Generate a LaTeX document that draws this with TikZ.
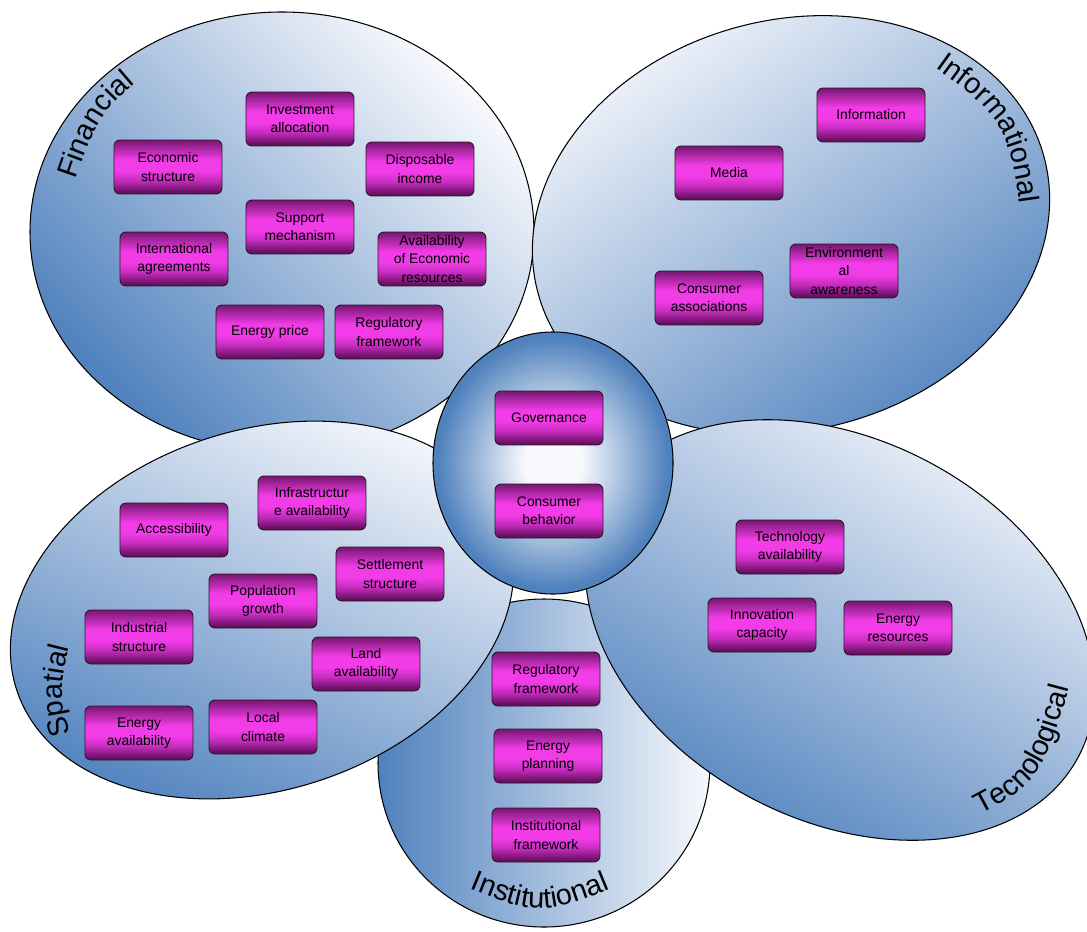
\documentclass[tikz,border=0pt]{standalone}
\usepackage{fontspec}
\setmainfont{Liberation Sans}
\usetikzlibrary{decorations.text}
\definecolor{pblue}{RGB}{79,129,189}
\definecolor{plight}{RGB}{248,249,253}
\definecolor{bdark}{RGB}{118,22,112}
\definecolor{bdarkb}{RGB}{84,12,80}
\definecolor{bmid}{RGB}{200,45,192}
\definecolor{bmag}{RGB}{242,60,232}
\definecolor{bline}{RGB}{45,20,45}
\pgfdeclareverticalshading{petalshade}{100bp}{color(0bp)=(pblue); color(25bp)=(pblue); color(75bp)=(plight); color(100bp)=(plight)}
\pgfdeclareradialshading{ctrshade}{\pgfpoint{0bp}{0bp}}{color(0bp)=(plight); color(6bp)=(plight); color(24bp)=(pblue); color(50bp)=(pblue)}
\pgfdeclareverticalshading{boxshade}{100bp}{color(0bp)=(bdarkb); color(25bp)=(bdarkb); color(38bp)=(bmid); color(47bp)=(bmag); color(57bp)=(bmag); color(75bp)=(bdark); color(100bp)=(bdark)}
\newcommand\lblfont{\fontsize{16.5}{16.5}\selectfont}
\tikzset{
  petal/.style={shade, shading=petalshade, draw=black, line width=0.6pt},
  box/.style={shade, shading=boxshade, draw=bline, line width=0.5pt, rounded corners=0.12cm,
    minimum width=2.16cm, minimum height=1.08cm, align=center, inner sep=1pt,
    font=\fontsize{7.9}{10.4}\selectfont, text=black},
  lbl/.style={decorate, decoration={text along path, text align=center, text={|\lblfont|#1}}}
}
\begin{document}
\begin{tikzpicture}[x=0.02cm, y=0.02cm]
\useasboundingbox (0,0) rectangle (1087,931);
\fill[white] (0,0) rectangle (1087,931);
% petals
\path[petal, shading angle=-45] (282,699) ellipse [x radius=252, y radius=220];
\path[petal, shading angle=35, rotate around={15:(791,706)}] (791,706) ellipse [x radius=262, y radius=205];
\path[petal, shading angle=-90] (544,168) ellipse [x radius=166, y radius=164];
\path[petal, shading angle=-25, rotate around={18:(262,321)}] (262,321) ellipse [x radius=258, y radius=180];
\path[petal, shading angle=-30, rotate around={-28:(840,301)}] (840,301) ellipse [x radius=270, y radius=190];
\path[shade, shading=ctrshade, draw=black, line width=0.6pt] (553,468) ellipse [x radius=120, y radius=131];
% petal labels
\path[lbl=Financial] (65,721) .. controls (97.5,817.5) .. (160,868);
\path[lbl=Informational] (906,884) .. controls (1009,812) .. (1024,692);
\path[lbl=Spatial] (82,165) .. controls (56,237) .. (78,317);
\path[lbl=Tecnological] (944,98) .. controls (1044.5,147.5) .. (1079,283);
\path[lbl=Institutional] (440,55) .. controls (540,12) .. (640,55);
% Financial boxes
\node[box] (inv) at (300,812) {Investment\\allocation};
\node[box] (eco) at (168,764) {Economic\\structure};
\node[box] (dis) at (420,762) {Disposable\\income};
\node[box] (sup) at (300,704) {Support\\mechanism};
\node[box] (int) at (174,672) {International\\agreements};
\node[box] (ava) at (432,672) {Availability\\of Economic\\resources};
\node[box] (epr) at (270,599) {Energy price};
\node[box] (reg) at (389,599) {Regulatory\\framework};
% Informational boxes
\node[box] (inf) at (871,816) {Information};
\node[box] (med) at (729,758) {Media};
\node[box] (env) at (844,660) {Environment\\al\\awareness};
\node[box] (cas) at (709,633) {Consumer\\associations};
% centre boxes
\node[box] (gov) at (549,513) {Governance};
\node[box] (cbe) at (549,420) {Consumer\\behavior};
% Spatial boxes
\node[box] (ina) at (312,428) {Infrastructur\\e availability};
\node[box] (acc) at (174,401) {Accessibility};
\node[box] (set) at (390,357) {Settlement\\structure};
\node[box] (pop) at (263,330) {Population\\growth};
\node[box] (ist) at (139,294) {Industrial\\structure};
\node[box] (lan) at (366,267) {Land\\availability};
\node[box] (loc) at (263,204) {Local\\climate};
\node[box] (eav) at (139,198) {Energy\\availability};
% Tecnological boxes
\node[box] (tav) at (790,384) {Technology\\availability};
\node[box] (inn) at (762,306) {Innovation\\capacity};
\node[box] (ere) at (898,303) {Energy\\resources};
% Institutional boxes
\node[box] (irf) at (546,252) {Regulatory\\framework};
\node[box] (epl) at (548,175) {Energy\\planning};
\node[box] (ifr) at (546,96) {Institutional\\framework};
\end{tikzpicture}
\end{document}
